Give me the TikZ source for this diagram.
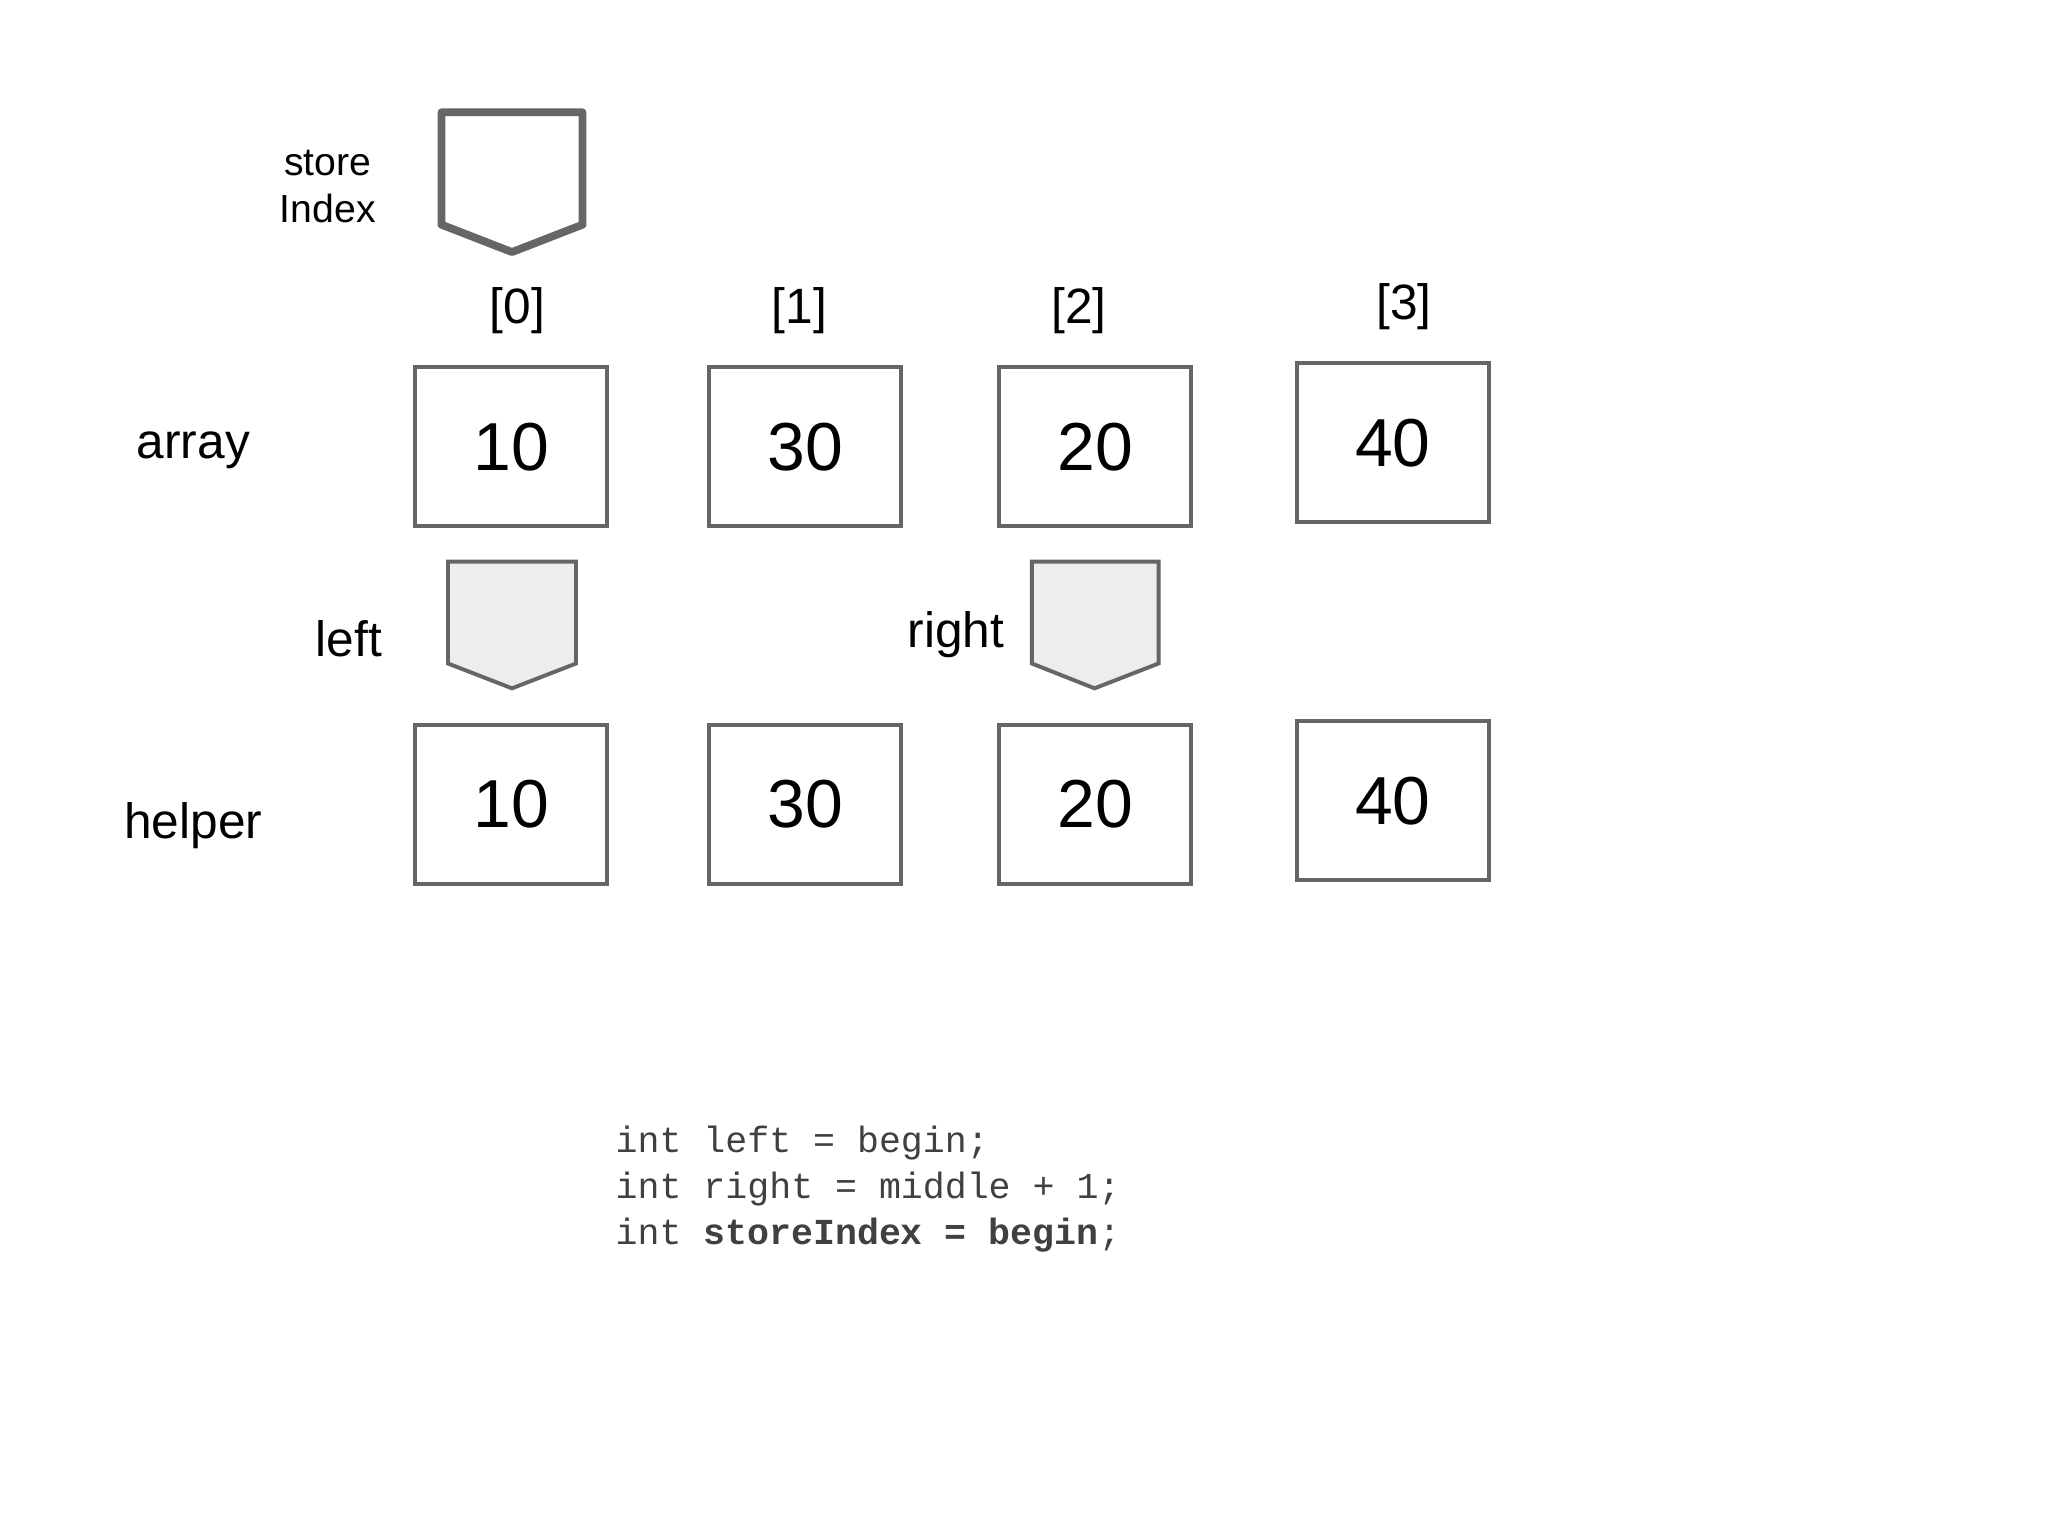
\documentclass[tikz,border=0pt]{standalone}
\usepackage{fontspec}
\setmainfont{Liberation Sans}
\setmonofont{Liberation Mono}
\begin{document}
\begin{tikzpicture}[x=0.5pt,y=-0.5pt,
  cell/.style={draw=black!60,line width=1.5pt},
  ptr/.style={draw=black!60,line width=1.5pt,fill=black!7},
  lbl/.style={font=\fontsize{19pt}{22pt}\selectfont},
  num/.style={font=\fontsize{26pt}{30pt}\selectfont},
  code/.style={font=\ttfamily\fontsize{14pt}{17.5pt}\selectfont,text=black!75,anchor=north west,align=left,inner sep=0pt}]
\useasboundingbox (0,0) rectangle (1568,1176);
% store index pointer
\draw[draw=black!60,line width=3pt,line join=round] (338,86) -- (446,86) -- (446,172) -- (392,193) -- (338,172) -- cycle;
\node[font=\fontsize{15pt}{18pt}\selectfont,align=center] (si) at (251,143) {store\\Index};
% index labels
\node[lbl] (i0) at (396,238) {[0]};
\node[lbl] (i1) at (612,238) {[1]};
\node[lbl] (i2) at (826,238) {[2]};
\node[lbl] (i3) at (1075,235) {[3]};
% row labels
\node[lbl] (arr) at (148,345) {array};
\node[lbl] (hlp) at (148,632) {helper};
% array
\foreach \x/\y/\v/\n in {318/281/10/a0,543/281/30/a1,765/281/20/a2,993/278/40/a3}{
  \draw[cell] (\x,\y) rectangle ++(147,122);
  \node[num] (\n) at (\x+73.5,\y+61) {\v};
}
% helper
\foreach \x/\y/\v/\n in {318/555/10/h0,543/555/30/h1,765/555/20/h2,993/552/40/h3}{
  \draw[cell] (\x,\y) rectangle ++(147,122);
  \node[num] (\n) at (\x+73.5,\y+61) {\v};
}
% left / right pointers
\draw[ptr] (343,430) -- (441,430) -- (441,508) -- (392,527) -- (343,508) -- cycle;
\draw[ptr] (790,430) -- (887,430) -- (887,508) -- (838,527) -- (790,508) -- cycle;
\node[lbl] (lt) at (267,489) {left};
\node[lbl] (rt) at (732,486) {right};
% code
\node[code] (cd) at (471,862) {int left = begin;\\int right = middle + 1;\\int \textbf{storeIndex = begin};};
\end{tikzpicture}
\end{document}
